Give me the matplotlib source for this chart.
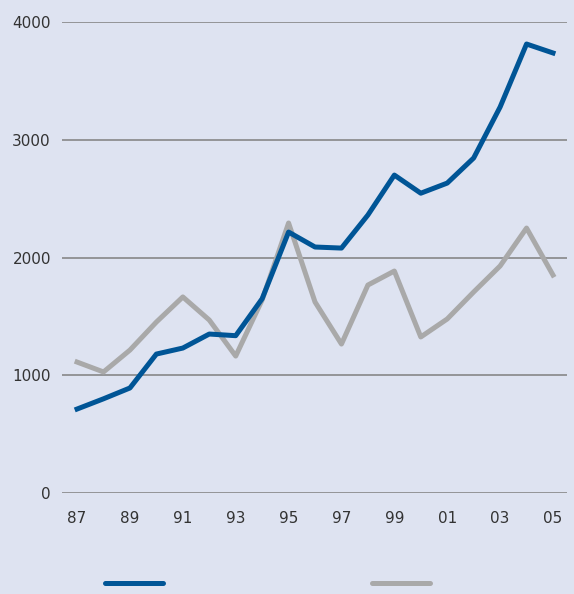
import numpy as np
import matplotlib.pyplot as plt
from matplotlib.lines import Line2D

years = np.arange(1987, 2006)
tick_years = [1987, 1989, 1991, 1993, 1995, 1997, 1999, 2001, 2003, 2005]
tick_labels = ["87", "89", "91", "93", "95", "97", "99", "01", "03", "05"]

blue_series = [713, 800, 892, 1180, 1231, 1350, 1336, 1650, 2216, 2089,
               2080, 2361, 2700, 2546, 2632, 2845, 3278, 3813, 3737]
grey_series = [1112, 1028, 1214, 1452, 1665, 1469, 1163, 1640, 2293, 1622,
               1265, 1766, 1885, 1325, 1478, 1707, 1928, 2250, 1851]

BG = "#dee3f1"
BLUE = "#005596"
GREY = "#a9a9a9"

fig = plt.figure(figsize=(5.74, 5.94), dpi=100, facecolor=BG)
ax = fig.add_axes([62 / 574, 101 / 594, 505 / 574, 471 / 594])
ax.set_facecolor(BG)

ax.plot(years, grey_series, color=GREY, linewidth=3.6, clip_on=False)
ax.plot(years, blue_series, color=BLUE, linewidth=3.6, clip_on=False)

ax.set_xlim(1986.43, 2005.53)
ax.set_ylim(0, 4000)
ax.set_yticks([0, 1000, 2000, 3000, 4000])
ax.set_xticks(tick_years)
ax.set_xticklabels(tick_labels)
ax.grid(axis="y", color="#7f7f7f", linewidth=1.1)
ax.set_axisbelow(True)
for s in ax.spines.values():
    s.set_visible(False)
ax.tick_params(axis="both", length=0, labelsize=11, colors="#333333")
ax.tick_params(axis="y", pad=8)
ax.tick_params(axis="x", pad=13)

# legend swatches (no text)
for x0, x1, c in [(105, 163, BLUE), (372, 430, GREY)]:
    fig.add_artist(Line2D([x0 / 574, x1 / 574], [11 / 594, 11 / 594],
                          color=c, linewidth=3.6, solid_capstyle="round"))

fig.savefig("out.png", dpi=100, facecolor=BG)
